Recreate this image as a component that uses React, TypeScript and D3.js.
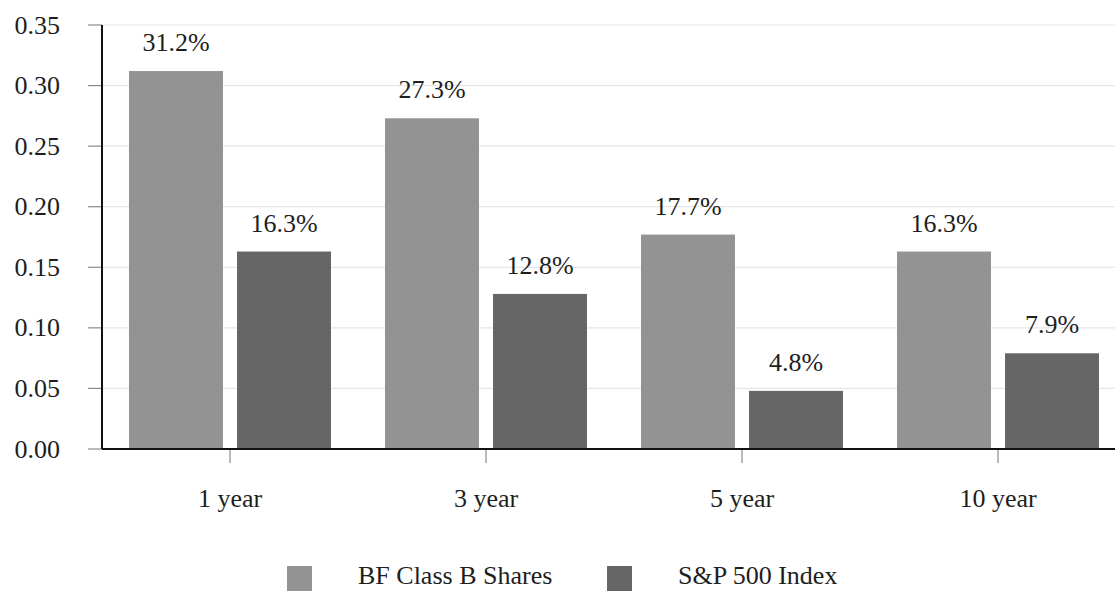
import React from "react";
import * as d3 from "d3";

const categories = ["1 year", "3 year", "5 year", "10 year"];
const seriesNames = ["BF Class B Shares", "S&P 500 Index"];
const bfClassB = [0.312, 0.273, 0.177, 0.163];
const sp500 = [0.163, 0.128, 0.048, 0.079];
const yTicks = [0, 0.05, 0.1, 0.15, 0.2, 0.25, 0.3, 0.35];
const seriesColors = ["#939393", "#666666"];

const W = 1115;
const H = 591;
const left = 102;
const top = 25;
const bottom = 449;
const right = 1126;

const font = "'Liberation Serif', 'Times New Roman', Times, serif";
const textStyle = { fontFamily: font, fontSize: 26, fill: "#1e1e1e" } as const;

export default function App() {
  const x = d3.scaleBand<string>().domain(categories).range([left, right]).paddingInner(0).paddingOuter(0);
  const inner = d3
    .scaleBand<number>()
    .domain([0, 1])
    .range([0, x.bandwidth()])
    .paddingInner(0.13)
    .paddingOuter(0.25);
  const y = d3.scaleLinear().domain([0, 0.35]).range([bottom, top]);
  const series = [bfClassB, sp500];

  return (
    <svg width={W} height={H} style={{ position: "absolute", left: 0, top: 0, background: "#fff" }}>
      {/* gridlines and y ticks */}
      {yTicks.map((t) => (
        <g key={t}>
          {t > 0 && <line x1={left} x2={W} y1={y(t)} y2={y(t)} stroke="#e6e6e6" strokeWidth={1.2} />}
          <line x1={88} x2={left} y1={y(t)} y2={y(t)} stroke="#8a8a8a" strokeWidth={1.2} />
          <text x={60} y={y(t)} dy="0.33em" textAnchor="end" style={textStyle}>
            {t.toFixed(2)}
          </text>
        </g>
      ))}

      {/* bars with value labels */}
      {categories.map((c, i) => (
        <g key={c} transform={`translate(${x(c)},0)`}>
          {series.map((s, j) => {
            const bx = inner(j)!;
            const bw = inner.bandwidth();
            return (
              <g key={j}>
                <rect x={bx} y={y(s[i])} width={bw} height={bottom - y(s[i])} fill={seriesColors[j]} />
                <text x={bx + bw / 2} y={y(s[i]) - 20} textAnchor="middle" style={textStyle}>
                  {(s[i] * 100).toFixed(1)}%
                </text>
              </g>
            );
          })}
          <line x1={x.bandwidth() / 2} x2={x.bandwidth() / 2} y1={bottom} y2={bottom + 14} stroke="#8a8a8a" strokeWidth={1.2} />
          <text x={x.bandwidth() / 2} y={507} textAnchor="middle" style={textStyle}>
            {c}
          </text>
        </g>
      ))}

      {/* axes */}
      <line x1={left} x2={left} y1={top} y2={bottom} stroke="#111" strokeWidth={2} />
      <line x1={left} x2={W} y1={bottom} y2={bottom} stroke="#111" strokeWidth={2} />

      {/* legend */}
      <rect x={287} y={566} width={25} height={25} fill={seriesColors[0]} />
      <text x={358} y={584} style={textStyle}>{seriesNames[0]}</text>
      <rect x={607} y={566} width={25} height={25} fill={seriesColors[1]} />
      <text x={678} y={584} style={textStyle}>{seriesNames[1]}</text>
    </svg>
  );
}
